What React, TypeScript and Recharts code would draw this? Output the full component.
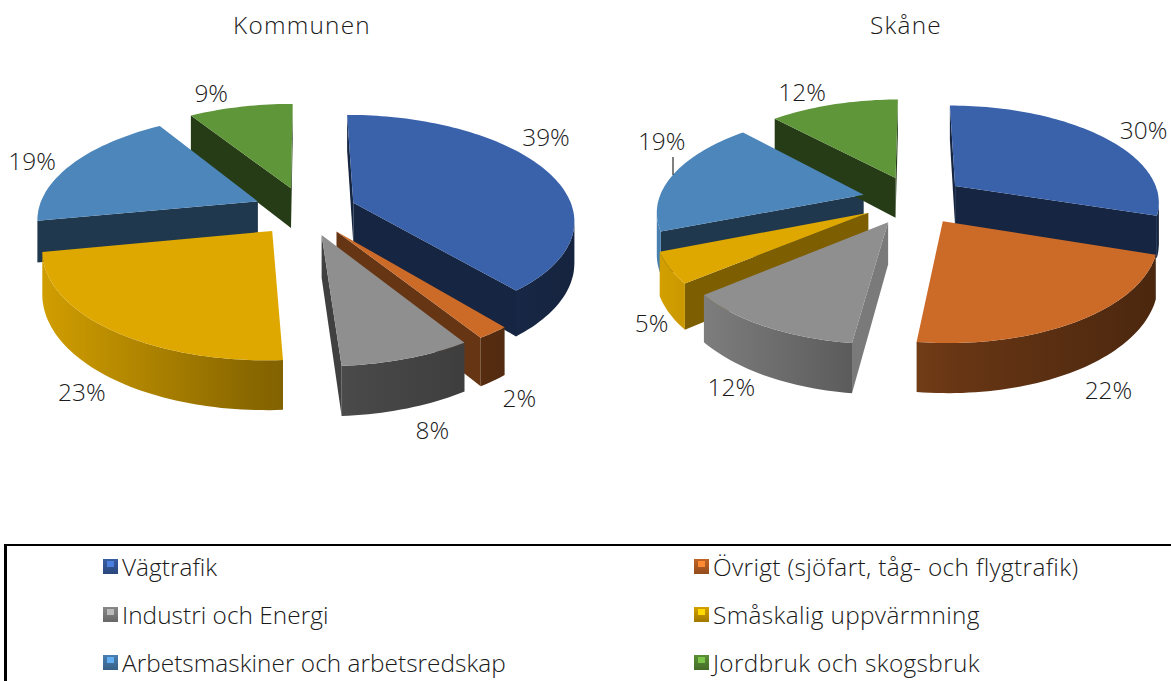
import React from 'react';
import { PieChart, Pie } from 'recharts';

const categories = [
  'Vägtrafik',
  'Övrigt (sjöfart, tåg- och flygtrafik)',
  'Industri och Energi',
  'Småskalig uppvärmning',
  'Arbetsmaskiner och arbetsredskap',
  'Jordbruk och skogsbruk',
];
const kommunenValues = [39, 2, 8, 23, 19, 9];
const skaneValues = [30, 22, 12, 5, 19, 12];

const colors = ['#3A62AB', '#CC6A28', '#8F8F8F', '#DFA800', '#4C86BA', '#5F9639'];

const FONT = '"Open Sans", sans-serif';
const TEXT_SIZE = 24.4;
const KOMMUNEN_CUT_SHADES = [0.38, 0.5, 0.45, 0.56, 0.42, 0.4];
const SKANE_CUT_SHADES = [0.38, 0.5, 0.85, 0.56, 0.42, 0.4];
const KOMMUNEN_NUDGE = [[-18, -31], [8, 4], [15, 5], [-9, 2], [-23, 0], [-25, -7]];
const SKANE_NUDGE = [[29, -2], [15, 7], [-20, -2], [4, 3], [7, -32], [-26, -6]];

// fake 3D: tilt + perspective + explode
const TILT = 0.47;
const PERSPECTIVE = 0.15;
const EXPLODE = 52;
const DEPTH = 41;

// walls are painted back to front, the tops go over all of them
const WALL_LAYERS = [[0, 4, 5], [3], [1, 2]];

const toRows = (values: number[]) => categories.map((name, i) => ({ name, value: values[i] }));

const project = (cx: number, cy: number, r: number, u: number, v: number, z: number) => {
  const s = 1 / (1 - (PERSPECTIVE * v) / r);
  return [cx + u * s, cy + (TILT * v + z) * s];
};

const shade = (hex: string, f: number) => {
  const n = parseInt(hex.slice(1), 16);
  const c = [n >> 16, (n >> 8) & 255, n & 255].map((x) => Math.min(255, Math.round(x * f)));
  return `rgb(${c[0]},${c[1]},${c[2]})`;
};

const sectorGeometry = (p: any) => {
  const { cx, cy, outerRadius: r, startAngle, endAngle } = p;
  const mid = ((startAngle + endAngle) / 2) * (Math.PI / 180);
  const ou = Math.cos(mid) * EXPLODE;
  const ov = -Math.sin(mid) * EXPLODE;
  const at = (angle: number, radius: number, z: number) => {
    const a = (angle * Math.PI) / 180;
    return project(cx, cy, r, ou + Math.cos(a) * radius, ov - Math.sin(a) * radius, z);
  };
  const steps = Math.max(2, Math.ceil(Math.abs(endAngle - startAngle) / 1.5));
  const angles = Array.from({ length: steps + 1 }, (_, i) => startAngle + ((endAngle - startAngle) * i) / steps);
  return { r, at, angles };
};

const poly = (pts: number[][]) => pts.map((q) => q.map((n) => n.toFixed(1)).join(',')).join(' ');

const WallShape = (pieId: string, cutShades: number[], only: number[]) => (p: any) => {
  const index = categories.indexOf(p.name);
  if (!only.includes(index)) return <g />;
  const { r, at, angles } = sectorGeometry(p);
  const base = colors[index];
  const apex = at(0, 0, 0);
  const apexLow = at(0, 0, DEPTH);
  const first = angles[0];
  const last = angles[angles.length - 1];
  const faces = [];

  // cut faces: only those turned to the viewer
  const S = at(first, r, 0);
  const E = at(last, r, 0);
  if (S[0] < apex[0]) {
    faces.push(<polygon key="s" points={poly([apex, S, at(first, r, DEPTH), apexLow])} fill={shade(base, cutShades[index])} />);
  }
  if (apex[0] < E[0]) {
    faces.push(<polygon key="e" points={poly([E, apex, apexLow, at(last, r, DEPTH)])} fill={shade(base, cutShades[index])} />);
  }

  // outer rim
  const gradId = `rim-${pieId}-${index}`;
  const left = p.cx - r - EXPLODE;
  const right = p.cx + r + EXPLODE;
  const up: number[][] = [];
  const down: number[][] = [];
  angles.forEach((a, i) => {
    if (i === 0) return;
    const q0 = at(angles[i - 1], r, 0);
    const q1 = at(a, r, 0);
    if (q1[0] < q0[0]) {
      if (!up.length) {
        up.push(q0);
        down.push(at(angles[i - 1], r, DEPTH));
      }
      up.push(q1);
      down.push(at(a, r, DEPTH));
    }
  });
  return (
    <g>
      <defs>
        <linearGradient id={gradId} gradientUnits="userSpaceOnUse" x1={left} x2={right} y1={0} y2={0}>
          <stop offset="0" stopColor={shade(base, 0.95)} />
          <stop offset="0.4" stopColor={shade(base, 0.62)} />
          <stop offset="0.6" stopColor={shade(base, 0.5)} />
          <stop offset="1" stopColor={shade(base, 0.36)} />
        </linearGradient>
      </defs>
      {faces}
      {up.length > 0 && <polygon points={poly([...up, ...down.reverse()])} fill={`url(#${gradId})`} />}
    </g>
  );
};

const TopShape = (p: any) => {
  const { r, at, angles } = sectorGeometry(p);
  const index = categories.indexOf(p.name);
  return <polygon points={poly([at(0, 0, 0), ...angles.map((a) => at(a, r, 0))])} fill={colors[index]} />;
};

const renderLabel = (nudges: number[][], leader: boolean) => (p: any) => {
  const { cx, cy, outerRadius: r, midAngle, value, index } = p;
  const a = (midAngle * Math.PI) / 180;
  const reach = r * 1.1 + EXPLODE;
  const u = Math.cos(a) * reach;
  const v = -Math.sin(a) * reach;
  const [x, y] = project(cx, cy, r, u, v, v > 0 ? DEPTH : 0);
  return (
    <g key={index}>
      {leader && index === 4 && <line x1={673} x2={673} y1={157} y2={175} stroke="#000" strokeWidth={1} />}
      <text
        x={x + nudges[index][0]}
        y={y + nudges[index][1]}
        textAnchor="middle"
        dominantBaseline="central"
        fontFamily={FONT}
        fontWeight={300}
        fontSize={TEXT_SIZE}
        fill="#1a1a1a"
      >
        {value}%
      </text>
    </g>
  );
};

const pies = [
  { id: 'k', values: kommunenValues, cx: 305, cy: 211, r: 220, cut: KOMMUNEN_CUT_SHADES, nudge: KOMMUNEN_NUDGE, leader: false },
  { id: 's', values: skaneValues, cx: 914, cy: 200, r: 205, cut: SKANE_CUT_SHADES, nudge: SKANE_NUDGE, leader: true },
];

const Marker = ({ color }: { color: string }) => (
  <span
    style={{
      position: 'relative',
      display: 'inline-block',
      width: 15,
      height: 15,
      background: `linear-gradient(180deg, ${shade(color, 0.95)} 0%, ${shade(color, 0.72)} 100%)`,
    }}
  >
    <span style={{ position: 'absolute', left: 4, top: 2, width: 7, height: 6, background: shade(color, 1.3) }} />
  </span>
);

export default function App() {
  return (
    <div style={{ position: 'absolute', left: 0, top: 0, width: 1171, height: 681, overflow: 'hidden', background: '#fff', fontFamily: FONT, fontWeight: 300, color: '#1a1a1a' }}>
      <PieChart width={1171} height={540} margin={{ top: 0, right: 0, bottom: 0, left: 0 }}>
        {pies.map((c) =>
          WALL_LAYERS.map((only, i) => (
            <Pie
              key={`${c.id}-walls-${i}`}
              data={toRows(c.values)}
              dataKey="value"
              nameKey="name"
              cx={c.cx}
              cy={c.cy}
              innerRadius={0}
              outerRadius={c.r}
              startAngle={90}
              endAngle={-270}
              stroke="none"
              isAnimationActive={false}
              shape={WallShape(c.id, c.cut, only)}
            />
          ))
        )}
        {pies.map((c) => (
          <Pie
            key={`${c.id}-tops`}
            data={toRows(c.values)}
            dataKey="value"
            nameKey="name"
            cx={c.cx}
            cy={c.cy}
            innerRadius={0}
            outerRadius={c.r}
            startAngle={90}
            endAngle={-270}
            stroke="none"
            isAnimationActive={false}
            shape={TopShape}
            label={renderLabel(c.nudge, c.leader)}
            labelLine={false}
          />
        ))}
      </PieChart>

      <div style={{ position: 'absolute', left: 152, width: 300, top: 8, textAlign: 'center', fontSize: TEXT_SIZE, letterSpacing: 1.2 }}>Kommunen</div>
      <div style={{ position: 'absolute', left: 756, width: 300, top: 8, textAlign: 'center', fontSize: TEXT_SIZE, letterSpacing: 1.2 }}>Skåne</div>

      <div style={{ position: 'absolute', left: 4, top: 544, right: 0, bottom: 0, borderTop: '2px solid #000', borderLeft: '3px solid #000' }} />
      {categories.map((name, i) => {
        const col = i % 2;
        const row = Math.floor(i / 2);
        return (
          <div key={name} style={{ position: 'absolute', left: col ? 694 : 103, top: 550 + row * 48, display: 'flex', alignItems: 'center', gap: 4, fontSize: TEXT_SIZE, letterSpacing: col ? 0.35 : 0.03, height: 32, whiteSpace: 'nowrap' }}>
            <Marker color={colors[i]} />
            {name}
          </div>
        );
      })}
    </div>
  );
}
